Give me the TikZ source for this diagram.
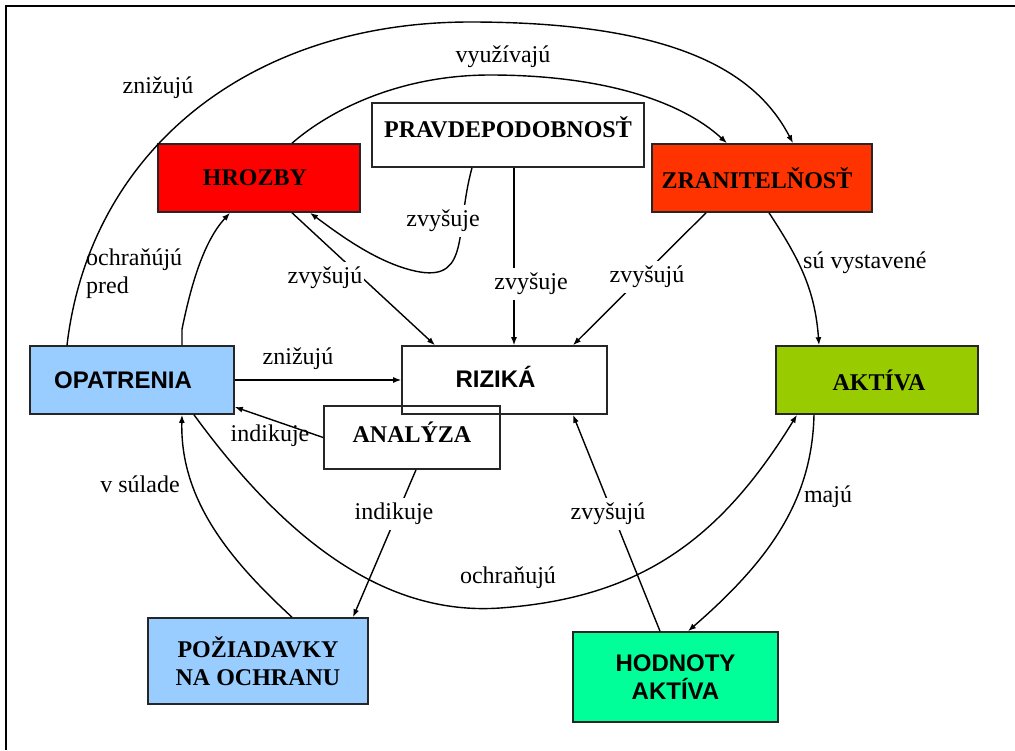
\documentclass[tikz,border=0pt]{standalone}
\usepackage{fontspec}
\setmainfont{Liberation Serif}
\newfontfamily\arialf{Liberation Sans}
\usetikzlibrary{arrows.meta}
\definecolor{hrozc}{HTML}{FF0000}
\definecolor{zranc}{HTML}{FF3300}
\definecolor{bluc}{HTML}{99CCFF}
\definecolor{aktc}{HTML}{99CC00}
\definecolor{hodc}{HTML}{00FF99}
\begin{document}
\begin{tikzpicture}[x=1pt,y=-1pt,
  box/.style={draw=black!85, line width=1.6pt, inner sep=0pt},
  sertxt/.style={font=\fontsize{24}{28}\selectfont\bfseries, align=center, inner sep=0pt},
  santxt/.style={font=\fontsize{24}{28}\selectfont\arialf\bfseries, align=center, inner sep=0pt},
  conn/.style={line width=1.4pt, -{Latex[length=8pt,width=6pt]}},
  lbl/.style={font=\fontsize{24}{28}\selectfont, inner sep=1pt},
  wlbl/.style={lbl, fill=white, inner xsep=2pt, inner ysep=5pt},
]
\useasboundingbox (0,0) rectangle (1015,750);
\draw[line width=1.8pt] (6,750) -- (6,6) -- (1015,6);

% boxes
\node[box, fill=hrozc, minimum width=202pt, minimum height=68pt,
      label={[sertxt,xshift=-4pt]center:HROZBY}] (hro) at (259,178) {};
\node[box, fill=white, minimum width=272pt, minimum height=64pt,
      label={[sertxt,yshift=8pt]center:PRAVDEPODOBNOSŤ}] (prav) at (508,135) {};
\node[box, fill=zranc, minimum width=220pt, minimum height=68pt,
      label={[sertxt,xshift=-5pt]center:ZRANITELŇOSŤ}] (zran) at (762,178) {};
\node[box, fill=bluc, minimum width=204pt, minimum height=68pt,
      label={[santxt,xshift=-9pt]center:OPATRENIA}] (opat) at (132,380) {};
\node[box, minimum width=205pt, minimum height=68pt,
      label={[santxt,xshift=-9pt,yshift=3pt]center:RIZIKÁ}] (riz) at (504.5,380) {};
\node[box, fill=aktc, minimum width=202pt, minimum height=68pt,
      label={[sertxt,xshift=2pt]center:AKTÍVA}] (akt) at (877,380) {};
\node[box, minimum width=176pt, minimum height=63pt,
      label={[sertxt,yshift=5pt]center:ANALÝZA}] (anal) at (412,437.5) {};
\node[box, fill=bluc, minimum width=220pt, minimum height=86pt, sertxt] (poz) at (258,661) {POŽIADAVKY\\NA OCHRANU};
\node[box, fill=hodc, minimum width=205pt, minimum height=90pt, santxt] (hod) at (675.5,677) {HODNOTY\\AKTÍVA};

% connectors
\draw[conn] ([xshift=-65pt]opat.north) .. controls (90,150) and (250,22) .. (470,22)
  .. controls (690,22) and (760,80) .. ([xshift=31pt]zran.north);
\draw[conn] ([xshift=33pt]hro.north) .. controls (330,110) and (400,75) .. (490,75)
  .. controls (600,75) and (680,100) .. ([xshift=-35pt]zran.north);
\draw[conn] ([xshift=33pt]hro.south) -- ([xshift=-69.5pt]riz.north);
\draw[conn] ([xshift=-36pt]prav.south) .. controls (455,230) and (470,280) .. (420,272)
  .. controls (380,265) and (340,235) .. ([xshift=51pt]hro.south);
\draw[conn] ([xshift=6pt]prav.south) -- ([xshift=9.5pt]riz.north);
\draw[conn] ([xshift=-56pt]zran.south) -- ([xshift=68.5pt]riz.north);
\draw[conn] ([xshift=7pt]zran.south) .. controls (800,260) and (815,290) .. ([xshift=-58pt]akt.north);
\draw[conn] (opat.east) -- (riz.west);
\draw[conn] (anal.west) -- ([yshift=-27pt]opat.east);
\draw[conn] ([xshift=4pt]anal.south) -- ([xshift=95pt]poz.north);
\draw[conn] ([xshift=34pt]poz.north) .. controls (230,560) and (180,500) .. ([xshift=50pt]opat.south);
\draw[conn] ([xshift=62pt]opat.south) .. controls (300,560) and (400,615) .. (500,608)
  .. controls (640,598) and (720,540) .. ([xshift=-80pt]akt.south);
\draw[conn] ([xshift=-63pt]akt.south) .. controls (812,500) and (770,560) .. ([xshift=12.5pt]hod.north);
\draw[conn] ([xshift=-15.5pt]hod.north) -- ([xshift=68.5pt]riz.south);
\draw[conn] ([xshift=50pt]opat.north) -- ([xshift=50pt,yshift=16pt]opat.north)
  .. controls (192,280) and (205,240) .. ([xshift=-29pt]hro.south);

% labels
\node[lbl] (l1) at (158,88) {znižujú};
\node[lbl] (l2) at (503,57) {využívajú};
\node[wlbl] (l3) at (325,278) {zvyšujú};
\node[wlbl] (l4) at (443,221) {zvyšuje};
\node[wlbl] (l5) at (531,284) {zvyšuje};
\node[wlbl] (l6) at (647,277) {zvyšujú};
\node[lbl, anchor=west] (l7) at (802,263) {sú vystavené};
\node[lbl] (l8) at (298,359) {znižujú};
\node[lbl] (l9) at (270,436) {indikuje};
\node[wlbl] (l10) at (394,514) {indikuje};
\node[lbl] (l11) at (140,484) {v súlade};
\node[lbl] (l12) at (508,578) {ochraňujú};
\node[lbl] (l13) at (828,497) {majú};
\node[wlbl] (l14) at (608,514) {zvyšujú};
\node[lbl, anchor=west, align=left] (l15) at (85,274) {ochraňújú\\pred};
\end{tikzpicture}
\end{document}
